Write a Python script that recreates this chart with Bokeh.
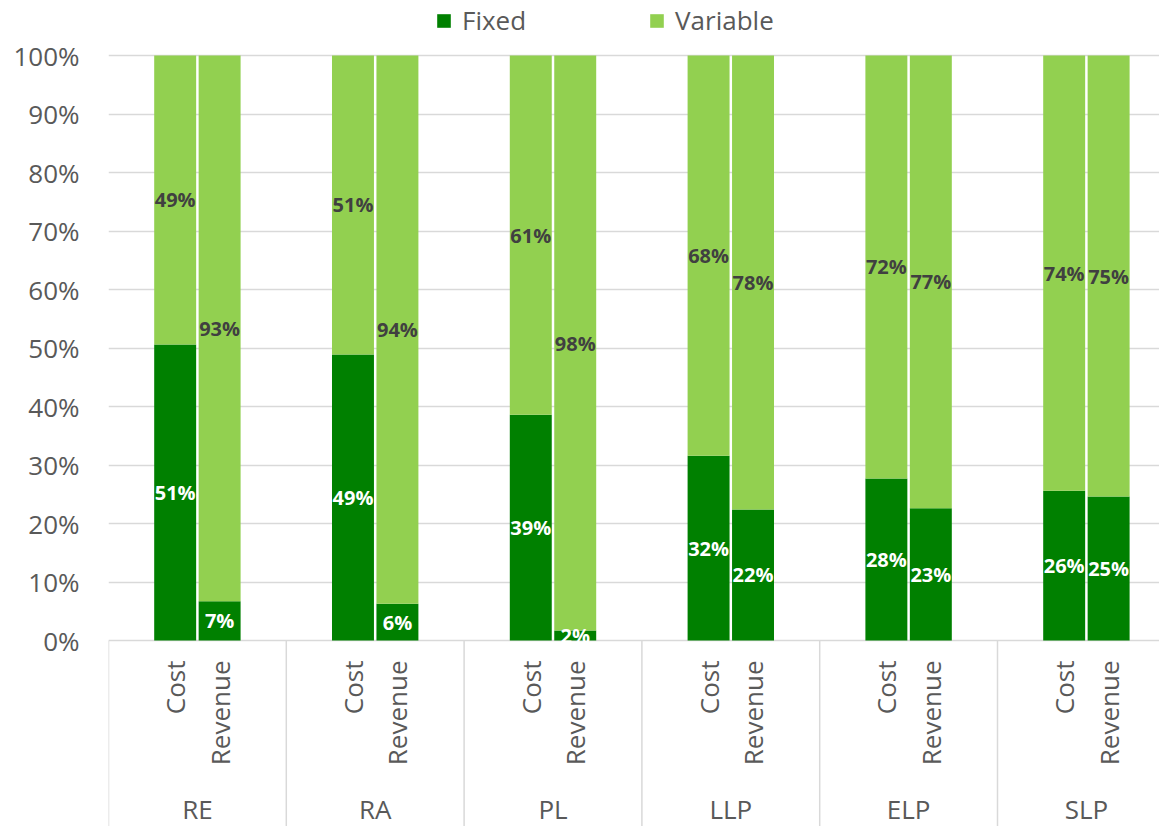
from bokeh.plotting import figure
from bokeh.models import ColumnDataSource, Range1d, FixedTicker, PrintfTickFormatter, Legend, LegendItem
from bokeh.core.properties import value
from bokeh.embed import file_html
from bokeh.resources import INLINE

# ---- data ----
groups = ["RE", "RA", "PL", "LLP", "ELP", "SLP"]
measures = ["Cost", "Revenue"]
fixed_cost = [50.6, 48.9, 38.6, 31.6, 27.7, 25.6]
variable_cost = [49.4, 51.1, 61.4, 68.4, 72.3, 74.4]
fixed_revenue = [6.7, 6.3, 1.7, 22.4, 22.6, 24.6]
variable_revenue = [93.3, 93.7, 98.3, 77.6, 77.4, 75.4]
y_ticks = [0, 10, 20, 30, 40, 50, 60, 70, 80, 90, 100]
series_names = ["Fixed", "Variable"]

# ---- style ----
FONT = "Open Sans"
C_FIXED = "#008000"
C_VAR = "#92D050"
C_TEXT = "#595959"
C_GRID = "#D9D9D9"
slot_offsets = [0.375, 0.625]
bar_width = 0.236

xs, fx, vr, mlab, flab, vlab, fmid, vmid = [], [], [], [], [], [], [], []
for gi, g in enumerate(groups):
    pairs = [(fixed_cost[gi], variable_cost[gi]), (fixed_revenue[gi], variable_revenue[gi])]
    for mi, m in enumerate(measures):
        f, v = pairs[mi]
        xs.append(gi + slot_offsets[mi])
        fx.append(f)
        vr.append(v)
        mlab.append(m)
        flab.append(f"{round(f)}%")
        vlab.append(f"{round(v)}%")
        fmid.append(f / 2)
        vmid.append(f + v / 2)

src = ColumnDataSource(dict(x=xs, fixed=fx, variable=vr, measure=mlab,
                            flab=flab, vlab=vlab, fmid=fmid, vmid=vmid))

W, H = 1159, 826
LEFT = 108
TOP100 = 55          # pixel row of 100%
px_per_group = 177.8
px_per_unit = 5.85
frame_w = W - LEFT
frame_h = H
y_top = 100 + TOP100 / px_per_unit
y_bot = -(frame_h - TOP100 - 100 * px_per_unit) / px_per_unit

p = figure(width=W, height=H,
           x_range=Range1d(0, frame_w / px_per_group),
           y_range=Range1d(y_bot, y_top),
           x_axis_location=None,
           output_backend="svg", toolbar_location=None,
           min_border_left=LEFT, min_border_right=0,
           min_border_top=0, min_border_bottom=0)
p.outline_line_color = None
p.background_fill_color = "white"
p.border_fill_color = "white"

p.xgrid.visible = False
p.ygrid.ticker = FixedTicker(ticks=y_ticks)
p.ygrid.bounds = (0, 100)
p.ygrid.grid_line_color = C_GRID
p.ygrid.grid_line_width = 1.5

ax = p.yaxis[0]
ax.ticker = FixedTicker(ticks=y_ticks)
ax.bounds = (0, 100)
ax.formatter = PrintfTickFormatter(format="%d%%")
ax.axis_line_color = None
ax.major_tick_line_color = None
ax.minor_tick_line_color = None
ax.major_tick_out = 0
ax.major_tick_in = 0
ax.major_label_standoff = 29
ax.major_label_text_font = FONT
ax.major_label_text_font_size = "26px"
ax.major_label_text_color = C_TEXT

rs = p.vbar_stack(["fixed", "variable"], x="x", width=bar_width, source=src,
                  color=[C_FIXED, C_VAR], line_color=None)

# data labels
p.text(x="x", y="fmid", text="flab", source=src, text_align="center", text_baseline="middle",
       text_font=value(FONT), text_font_style="bold", text_font_size="20px", text_color="white")
p.text(x="x", y="vmid", text="vlab", source=src, text_align="center", text_baseline="middle",
       text_font=value(FONT), text_font_style="bold", text_font_size="20px", text_color="#404040")

# category axis drawn inside the frame below 0
p.text(x="x", y=-20 / px_per_unit, text="measure", source=src, angle=1.5708,
       text_align="right", text_baseline="middle",
       text_font=value(FONT), text_font_size="26px", text_color=C_TEXT)
gsrc = ColumnDataSource(dict(gx=[i + 0.5 for i in range(len(groups))], g=groups,
                             sx=list(range(len(groups)))))
p.text(x="gx", y=-168 / px_per_unit, text="g", source=gsrc, text_align="center",
       text_baseline="middle", text_font=value(FONT), text_font_size="26px", text_color=C_TEXT)
p.segment(x0="sx", y0=0, x1="sx", y1=y_bot, source=gsrc, line_color=C_GRID, line_width=1.5)

legend = Legend(items=[LegendItem(label=series_names[0], renderers=[rs[0]]),
                       LegendItem(label=series_names[1], renderers=[rs[1]])],
                orientation="horizontal", location=(327, 788),
                glyph_width=17, glyph_height=17, label_standoff=10, spacing=122,
                padding=0, margin=0, border_line_color=None, background_fill_alpha=0,
                label_text_font=FONT, label_text_font_size="26px", label_text_color=C_TEXT)
p.add_layout(legend)

open("out.html", "w").write(file_html(p, INLINE))
